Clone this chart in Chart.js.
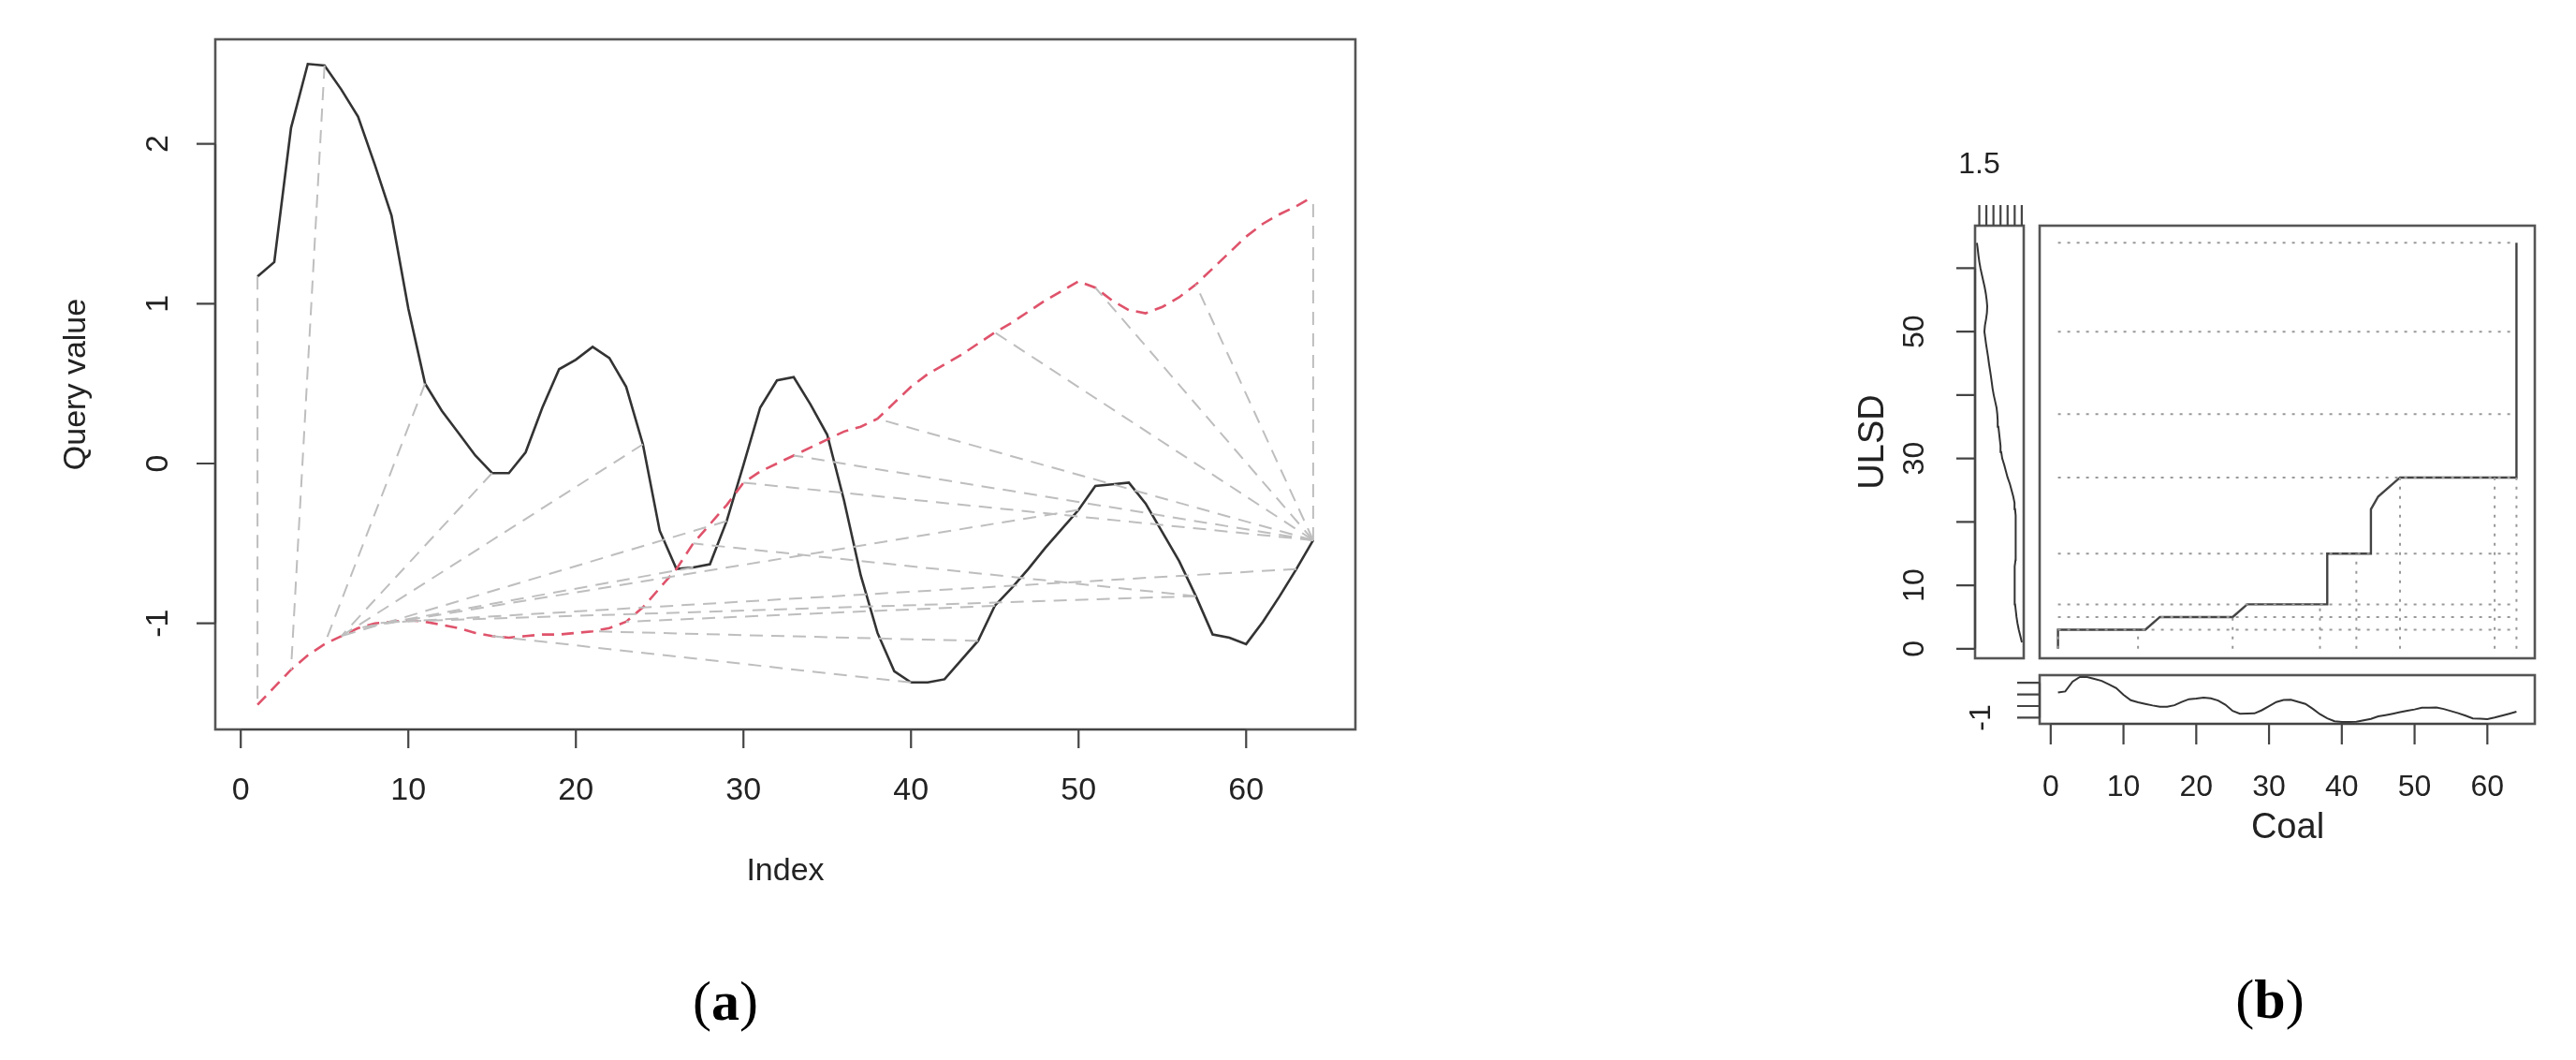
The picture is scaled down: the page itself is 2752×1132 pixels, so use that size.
<!DOCTYPE html>
<html><head><meta charset="utf-8">
<script src="https://cdn.jsdelivr.net/npm/chart.js@4"></script>
<style>body{margin:0;background:#fff;width:2752px;height:1132px;overflow:hidden;position:relative}
canvas{position:absolute;left:0;top:0}</style></head><body>
<canvas id="ca" width="2752" height="1132"></canvas>
<canvas id="cb" width="2752" height="1132"></canvas>
<canvas id="cl" width="2752" height="1132"></canvas>
<canvas id="cs" width="2752" height="1132"></canvas>
<script>
// ---- data ----
const query = [1.17,1.26,2.10,2.50,2.49,2.34,2.17,1.87,1.55,0.97,0.50,0.33,0.19,0.05,-0.06,-0.06,0.07,0.35,0.59,0.65,
0.73,0.66,0.48,0.12,-0.42,-0.66,-0.65,-0.63,-0.36,-0.01,0.35,0.52,0.54,0.37,0.18,-0.23,-0.70,-1.06,-1.30,-1.37,
-1.37,-1.35,-1.23,-1.11,-0.89,-0.78,-0.66,-0.53,-0.41,-0.29,-0.14,-0.13,-0.12,-0.25,-0.43,-0.61,-0.83,-1.07,-1.09,-1.13,
-0.99,-0.83,-0.66,-0.48];
const reference = [-1.51,-1.40,-1.29,-1.20,-1.13,-1.08,-1.03,-1.00,-0.99,-0.98,-0.99,-1.01,-1.03,-1.06,-1.08,-1.09,-1.08,-1.07,-1.07,-1.06,
-1.05,-1.03,-0.99,-0.90,-0.78,-0.66,-0.50,-0.38,-0.26,-0.12,-0.05,0.00,0.05,0.10,0.15,0.20,0.23,0.28,0.38,0.48,
0.56,0.62,0.68,0.75,0.82,0.88,0.95,1.02,1.08,1.14,1.10,1.02,0.96,0.94,0.98,1.04,1.12,1.22,1.32,1.42,
1.50,1.56,1.61,1.67];
// warping links [query index, reference index]
const warpPairs = [[1,1],[5,3],[11,5],[15,6],[24,6],[29,6],[50,7],[63,8],[57,9],[27,7],[40,15],[44,21],[45,23],
[57,27],[64,30],[64,33],[64,38],[64,45],[64,51],[64,57],[64,64]];
const xTicksA = [0,10,20,30,40,50,60];
const yTicksA = [-1,0,1,2];
// panel b: warping path
const stepX = [1,1,13,15,25,27,38,38,44,44,45,48,64,64];
const stepY = [0,3,3,5,5,7,7,15,15,22,24,27,27,64];
const hLevels = [3,5,7,15,27,37,50,64];
const vLevelsX = [1,12,25,37,42,48,61,64];
const vLevelsTop = [3,3,5,7,15,27,27,27];
const xTicksB = [0,10,20,30,40,50,60];
const yTicksB = [0,10,20,30,40,50,60];
const yLabelsB = [0,10,30,50];
const topTicksL = [-1.5,-1,-0.5,0,0.5,1,1.5];
const stripTicks = [-1,0,1,2];

const pts = (arr)=>arr.map((v,i)=>({x:i+1,y:v}));
const FONT='"Liberation Sans", Arial, sans-serif';

function axis(ctx, scale, o){
  ctx.save(); ctx.strokeStyle='#444'; ctx.lineWidth=2.2; ctx.fillStyle='#222';
  ctx.font=o.font+'px '+FONT;
  const px=o.ticks.map(t=>scale.getPixelForValue(t));
  ctx.beginPath();
  if(o.pos==='bottom'){ctx.moveTo(Math.min(...px),o.at);ctx.lineTo(Math.max(...px),o.at);
    px.forEach(p=>{ctx.moveTo(p,o.at);ctx.lineTo(p,o.at+o.len);});}
  else if(o.pos==='top'){px.forEach(p=>{ctx.moveTo(p,o.at);ctx.lineTo(p,o.at-o.len);});}
  else {ctx.moveTo(o.at,Math.min(...px));ctx.lineTo(o.at,Math.max(...px));
    px.forEach(p=>{ctx.moveTo(o.at,p);ctx.lineTo(o.at-o.len,p);});}
  ctx.stroke();
  ctx.textAlign='center'; ctx.textBaseline='middle';
  o.ticks.forEach((t,i)=>{
    if(o.labels && !o.labels.includes(t)) return;
    const s=o.fmt?o.fmt(t):String(t);
    if(o.pos==='bottom') ctx.fillText(s,px[i],o.labelAt);
    else if(o.pos==='top') ctx.fillText(s,px[i],o.labelAt);
    else {ctx.save();ctx.translate(o.labelAt,px[i]);ctx.rotate(-Math.PI/2);ctx.fillText(s,0,0);ctx.restore();}
  });
  ctx.restore();
}
function text(ctx,s,x,y,size,rot,font){
  ctx.save();ctx.fillStyle='#222';ctx.font=size+'px '+(font||FONT);ctx.textAlign='center';ctx.textBaseline='middle';
  ctx.translate(x,y); if(rot) ctx.rotate(rot); ctx.fillText(s,0,0); ctx.restore();
}
function box(ctx,a){ctx.save();ctx.strokeStyle='#555';ctx.lineWidth=2.6;ctx.strokeRect(a.left,a.top,a.right-a.left,a.bottom-a.top);ctx.restore();}
function panelLabel(ctx,x,y,l){
  ctx.save();ctx.fillStyle='#000';ctx.textBaseline='middle';
  const n='60px "Liberation Serif", serif', b='bold 60px "Liberation Serif", serif';
  ctx.font=n;const wp=ctx.measureText('(').width;ctx.font=b;const wl=ctx.measureText(l).width;
  const x0=x-(2*wp+wl)/2;ctx.textAlign='left';
  ctx.font=n;ctx.fillText('(',x0,y);ctx.font=b;ctx.fillText(l,x0+wp,y);ctx.font=n;ctx.fillText(')',x0+wp+wl,y);
  ctx.restore();
}
const base = {responsive:false,animation:false,devicePixelRatio:1,
  plugins:{legend:{display:false},tooltip:{enabled:false}},elements:{point:{radius:0}}};

// ---- panel a ----
const dsA=[];
warpPairs.forEach(([q,r])=>dsA.push({data:[{x:q,y:query[q-1]},{x:r,y:reference[r-1]}],borderColor:'#BEBEBE',borderWidth:2,borderDash:[14,9],fill:false}));
dsA.push({data:pts(reference),borderColor:'#DF536B',borderWidth:2.6,borderDash:[13,8]});
dsA.push({data:pts(query),borderColor:'#333',borderWidth:2.6});
new Chart(document.getElementById('ca'),{type:'line',data:{datasets:dsA},
 options:{...base,layout:{padding:{left:230,top:42,right:1304,bottom:353}},
  scales:{x:{type:'linear',display:false,min:-1.52,max:66.52},y:{type:'linear',display:false,min:-1.664,max:2.654}}},
 plugins:[{id:'a',afterDraw(c){const ctx=c.ctx,a=c.chartArea;box(ctx,a);
  axis(ctx,c.scales.x,{pos:'bottom',at:a.bottom,ticks:xTicksA,len:20,labelAt:845,font:34});
  axis(ctx,c.scales.y,{pos:'left',at:a.left,ticks:yTicksA,len:20,labelAt:170,font:34});
  text(ctx,'Index',(a.left+a.right)/2,931,34);
  text(ctx,'Query value',82,(a.top+a.bottom)/2,34,-Math.PI/2);
  panelLabel(ctx,775,1073,'a');}}]});

// ---- panel b main ----
const dsB=[];
hLevels.forEach(h=>dsB.push({data:[{x:1,y:h},{x:64,y:h}],borderColor:'#999',borderWidth:2,borderDash:[3,7]}));
vLevelsX.forEach((v,i)=>dsB.push({data:[{x:v,y:0},{x:v,y:vLevelsTop[i]}],borderColor:'#999',borderWidth:2,borderDash:[3,7]}));
dsB.push({data:stepX.map((x,i)=>({x,y:stepY[i]})),borderColor:'#444',borderWidth:2.4});
new Chart(document.getElementById('cb'),{type:'line',data:{datasets:dsB},
 options:{...base,layout:{padding:{left:2179,top:241,right:44,bottom:429}},
  scales:{x:{type:'linear',display:false,min:-1.52,max:66.52},y:{type:'linear',display:false,min:-1.5,max:66.7}}},
 plugins:[{id:'b',afterDraw(c){const ctx=c.ctx,a=c.chartArea;box(ctx,a);
  text(ctx,'Coal',2444,885,38);
  text(ctx,'ULSD',2002,472,38,-Math.PI/2);
  panelLabel(ctx,2425,1071,'b');}}]});

// ---- panel b left strip (reference) ----
new Chart(document.getElementById('cl'),{type:'line',data:{datasets:[{data:reference.map((v,i)=>({x:v,y:i+1})),borderColor:'#333',borderWidth:2}]},
 options:{...base,layout:{padding:{left:2110,top:241,right:590,bottom:429}},
  scales:{x:{type:'linear',display:false,min:-1.64,max:1.80,reverse:true},y:{type:'linear',display:false,min:-1.5,max:66.7}}},
 plugins:[{id:'l',afterDraw(c){const ctx=c.ctx,a=c.chartArea;box(ctx,a);
  axis(ctx,c.scales.y,{pos:'left',at:a.left,ticks:yTicksB,labels:yLabelsB,len:20,labelAt:2046,font:32});
  axis(ctx,c.scales.x,{pos:'top',at:a.top,ticks:topTicksL,labels:[1.5],len:22,labelAt:176,font:32,fmt:t=>t.toFixed(1)});}}]});

// ---- panel b bottom strip (query) ----
new Chart(document.getElementById('cs'),{type:'line',data:{datasets:[{data:pts(query),borderColor:'#333',borderWidth:2}]},
 options:{...base,layout:{padding:{left:2179,top:721,right:44,bottom:359}},
  scales:{x:{type:'linear',display:false,min:-1.52,max:66.52},y:{type:'linear',display:false,min:-1.53,max:2.66}}},
 plugins:[{id:'s',afterDraw(c){const ctx=c.ctx,a=c.chartArea;box(ctx,a);
  axis(ctx,c.scales.x,{pos:'bottom',at:a.bottom,ticks:xTicksB,len:22,labelAt:841,font:32});
  axis(ctx,c.scales.y,{pos:'left',at:a.left,ticks:stripTicks,labels:[-1],len:24,labelAt:2117,font:32});}}]});
</script></body></html>
